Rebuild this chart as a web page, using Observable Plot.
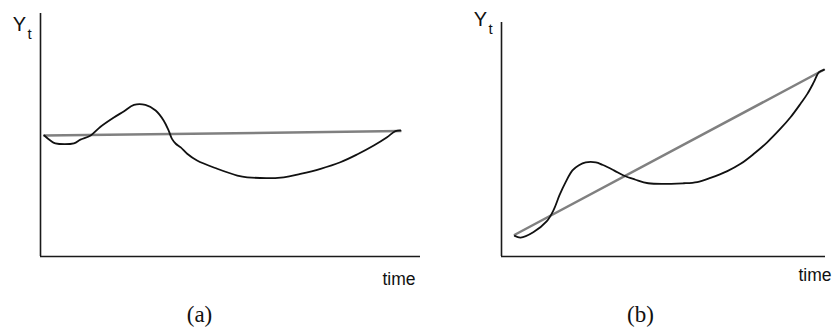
<!DOCTYPE html>
<html>
<head>
<meta charset="utf-8">
<script src="https://cdn.jsdelivr.net/npm/d3@7"></script>
<script src="https://cdn.jsdelivr.net/npm/@observablehq/plot@0.6"></script>
<style>
  html, body { margin: 0; padding: 0; background: #fff; }
  #wrap { display: flex; width: 832px; height: 329px; overflow: hidden; }
  svg { display: block; }
</style>
</head>
<body>
<div id="wrap"></div>
<script>
// Panel (a): stationary-ish series around a nearly flat trend
const timeA = [1.0, 2.6, 3.9, 8.8, 10.5, 13.2, 15.8, 19.3, 21.9, 24.6, 27.6, 30.3, 32.4, 33.7, 34.6, 35.6, 36.9, 38.6, 41.2, 46.5, 51.8, 54.4, 64.0, 68.4, 73.7, 78.9, 83.3, 87.7, 91.2, 93.4, 94.7];
const seriesA = [49.8, 47.7, 46.6, 46.6, 48.1, 49.8, 53.4, 57.2, 59.7, 62.4, 62.4, 60.1, 56.0, 51.9, 48.4, 46.4, 44.9, 42.3, 39.5, 36.1, 33.3, 32.6, 32.6, 34.0, 36.1, 38.8, 42.0, 45.7, 49.1, 51.6, 51.9];
const trendTimeA = [1.0, 94.7];
const trendA = [49.8, 51.6];

// Panel (b): series around a rising trend
const timeB = [4.1, 5.9, 9.8, 14.0, 16.1, 17.9, 19.8, 21.9, 23.9, 26.0, 29.1, 31.1, 34.7, 37.7, 41.2, 45.3, 56.3, 60.4, 64.5, 69.7, 73.8, 77.9, 82.0, 86.1, 89.2, 92.3, 94.4, 96.4, 98.0, 99.5];
const seriesB = [8.8, 8.1, 10.4, 15.1, 19.9, 26.2, 31.8, 36.8, 39.0, 40.2, 40.2, 39.2, 36.8, 34.6, 32.9, 31.3, 31.3, 31.8, 33.6, 36.5, 39.6, 43.9, 48.8, 54.6, 59.5, 65.3, 69.5, 74.5, 78.8, 79.8];
const trendTimeB = [4.1, 99.5];
const trendB = [9.3, 79.8];

const panelLabels = ["(a)", "(b)"];
const yLabel = "Y";
const ySub = "t";
const xLabel = "time";

function panel(opts) {
  const curve = opts.time.map((t, i) => ({t, v: opts.series[i]}));
  const trend = opts.trendTime.map((t, i) => ({t, v: opts.trend[i]}));
  return Plot.plot({
    width: opts.width,
    height: 329,
    marginLeft: opts.marginLeft,
    marginRight: opts.marginRight,
    marginTop: opts.marginTop,
    marginBottom: 73,
    x: {domain: [0, 100], axis: null},
    y: {domain: [0, 100], axis: null},
    style: {background: "#fff", overflow: "visible"},
    marks: [
      Plot.ruleX([0], {stroke: "#1a1a1a", strokeWidth: 1.6}),
      Plot.ruleY([0], {stroke: "#1a1a1a", strokeWidth: 1.6}),
      Plot.line(trend, {x: "t", y: "v", stroke: "#808080", strokeWidth: 2.5}),
      Plot.line(curve, {x: "t", y: "v", stroke: "#111", strokeWidth: 1.8, curve: "catmull-rom"}),
      Plot.text([yLabel], {frameAnchor: "top-left", dx: opts.yDx, dy: opts.yDy, text: d => d, lineAnchor: "bottom", textAnchor: "middle", fontSize: 20, fontFamily: "Liberation Sans, Arial, sans-serif", fill: "#111"}),
      Plot.text([ySub], {frameAnchor: "top-left", dx: opts.yDx + 8, dy: opts.yDy + 8, text: d => d, lineAnchor: "bottom", textAnchor: "start", fontSize: 15, fontFamily: "Liberation Sans, Arial, sans-serif", fill: "#111"}),
      Plot.text([xLabel], {frameAnchor: "bottom-right", dx: opts.tDx, dy: opts.tDy, text: d => d, lineAnchor: "bottom", textAnchor: "end", fontSize: 17.5, fontFamily: "Liberation Sans, Arial, sans-serif", fill: "#111"}),
      Plot.text([opts.label], {frameAnchor: "bottom", dx: opts.lDx, dy: 65, text: d => d, lineAnchor: "bottom", textAnchor: "middle", fontSize: 23, fontFamily: "Liberation Serif, Times New Roman, serif", fill: "#111"})
    ]
  });
}

const wrap = document.getElementById("wrap");
wrap.appendChild(panel({
  width: 420, marginLeft: 40, marginRight: 0, marginTop: 13,
  time: timeA, series: seriesA, trendTime: trendTimeA, trend: trendA,
  yDx: -21, yDy: 17, tDx: -5, tDy: 28, lDx: -31, label: panelLabels[0]
}));
wrap.appendChild(panel({
  width: 412, marginLeft: 81, marginRight: 7, marginTop: 22,
  time: timeB, series: seriesB, trendTime: trendTimeB, trend: trendB,
  yDx: -21, yDy: 3, tDx: 6, tDy: 24, lDx: -23, label: panelLabels[1]
}));
</script>
</body>
</html>
